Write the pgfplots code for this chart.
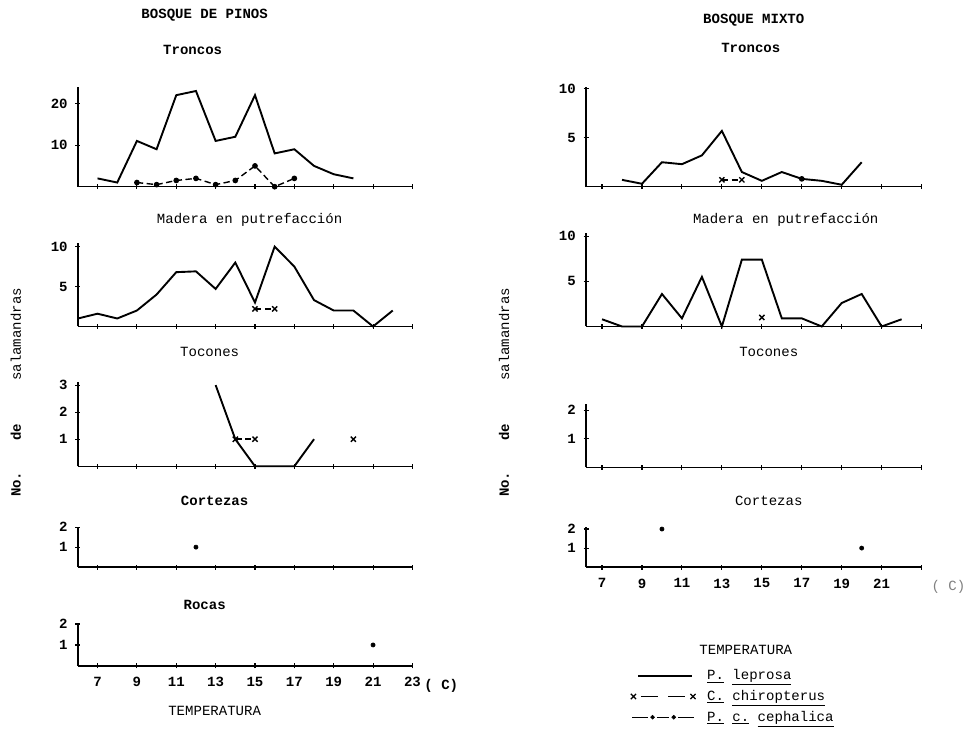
\documentclass[border=0pt]{standalone}
\usepackage{pgfplots}
\pgfplotsset{compat=1.18}
\usepackage{fontspec}
\setmainfont{Liberation Mono}

% 1 px of the 970x720 reference = 0.025cm
\def\px{*0.025cm}

\pgfplotsset{
  panel/.style={
    scale only axis,
    width=8.375cm,
    xmin=6, xmax=23, ymin=0,
    axis x line=bottom, axis y line=left,
    axis line style={-, line width=1pt},
    xtick={7,9,...,23}, xticklabels={},
    tick style={black, line width=0.8pt},
    major tick length=3.5pt, tick align=center,
    ticklabel style={font=\bfseries\fontsize{10}{12}\selectfont},
    yticklabel style={xshift=-2pt},
    xticklabel style={yshift=-3pt},
    /pgf/number format/assume math mode=true,
    clip=false,
  },
  rpanel/.style={panel, xmin=6.2, width=8.4cm},
  lep/.style={black, line width=1.35pt, mark=none},
  chi/.style={black, line width=1pt, dash pattern=on 4.5pt off 2.5pt,
              mark=x, mark size=2.6pt, mark options={solid, line width=1pt}},
  cep/.style={black, line width=1pt, dash pattern=on 4.5pt off 2.5pt,
              mark=*, mark size=1.5pt, mark options={solid}},
  dot/.style={black, only marks, mark=*, mark size=1.5pt},
}
\newcommand\tw{\fontsize{10}{12}\selectfont}

\begin{document}
\begin{tikzpicture}
\path (0,0) rectangle (970\px,-720\px);

%% ---------------- BOSQUE DE PINOS ----------------
\node[font=\tw\bfseries] at (205\px,-15\px) {BOSQUE DE PINOS};
\node[font=\tw\bfseries] at (193\px,-50\px) {Troncos};
\node[font=\tw] at (250\px,-220\px) {Madera en putrefacción};
\node[font=\tw] at (210\px,-353\px) {Tocones};
\node[font=\tw\bfseries] at (215\px,-502\px) {Cortezas};
\node[font=\tw\bfseries] at (205\px,-606\px) {Rocas};
\node[font=\tw] at (215\px,-712\px) {TEMPERATURA};
\node[font=\tw\bfseries] at (442\px,-687\px) {( C)};
\node[font=\tw\bfseries, rotate=90] at (16\px,-485\px) {No.};
\node[font=\tw\bfseries, rotate=90] at (16\px,-433\px) {de};
\node[font=\tw, rotate=90] at (16\px,-335\px) {salamandras};

% Troncos
\begin{axis}[panel, at={(78\px,-187\px)}, anchor=south west,
  height=2.5cm, ymax=24, ytick={10,20}]
\addplot[lep] coordinates {(7,2)(8,1)(9,11)(10,9)(11,22)(12,23)(13,11)(14,12)
  (15,22)(16,8)(17,9)(18,5)(19,3)(20,2)};
\addplot[cep] coordinates {(9,1)(10,0.5)(11,1.5)(12,2)(13,0.5)(14,1.5)(15,5)(16,0)(17,2)};
\end{axis}

% Madera en putrefaccion
\begin{axis}[panel, at={(78\px,-327\px)}, anchor=south west,
  height=2.1cm, ymax=10.5, ytick={5,10}]
\addplot[lep] coordinates {(6,1)(7,1.6)(8,1)(9,2)(10,4)(11,6.8)(12,6.9)(13,4.7)
  (14,8)(15,3)(16,10)(17,7.5)(18,3.3)(19,2)(20,2)(21,0)(22,2)};
\addplot[chi] coordinates {(15,2.2)(16,2.2)};
\end{axis}

% Tocones
\begin{axis}[panel, at={(78\px,-467\px)}, anchor=south west,
  height=2.1cm, ymax=3.1, ytick={1,2,3}, unbounded coords=jump]
\addplot[lep] coordinates {(13,3)(14,1)(15,0)(16,0)(17,0)(18,1)};
\addplot[chi] coordinates {(14,1)(15,1)(16,nan)(20,1)};
\end{axis}

% Cortezas
\begin{axis}[panel, at={(78\px,-568\px)}, anchor=south west,
  height=1cm, ymax=2, ytick={1,2}]
\addplot[dot] coordinates {(12,1)};
\end{axis}

% Rocas
\begin{axis}[panel, at={(78\px,-667\px)}, anchor=south west,
  height=1.05cm, ymax=2, ytick={1,2},
  xticklabels={7,9,11,13,15,17,19,21,23}]
\addplot[dot] coordinates {(21,1)};
\end{axis}

%% ---------------- BOSQUE MIXTO ----------------
\node[font=\tw\bfseries] at (755\px,-20\px) {BOSQUE MIXTO};
\node[font=\tw\bfseries] at (752\px,-48\px) {Troncos};
\node[font=\tw] at (787\px,-220\px) {Madera en putrefacción};
\node[font=\tw] at (770\px,-353\px) {Tocones};
\node[font=\tw] at (770\px,-502\px) {Cortezas};
\node[font=\tw] at (747\px,-651\px) {TEMPERATURA};
\node[font=\tw, text=gray] at (950\px,-588\px) {( C)};
\node[font=\tw\bfseries, rotate=90] at (505\px,-485\px) {No.};
\node[font=\tw\bfseries, rotate=90] at (505\px,-433\px) {de};
\node[font=\tw, rotate=90] at (505\px,-335\px) {salamandras};

% Troncos
\begin{axis}[rpanel, at={(587\px,-187\px)}, anchor=south west,
  height=2.5cm, ymax=10.2, ytick={5,10}]
\addplot[lep] coordinates {(8,0.7)(9,0.3)(10,2.5)(11,2.3)(12,3.2)(13,5.7)(14,1.5)
  (15,0.6)(16,1.5)(17,0.8)(18,0.6)(19,0.2)(20,2.5)};
\addplot[chi] coordinates {(13,0.7)(14,0.7)};
\addplot[cep] coordinates {(17,0.8)};
\end{axis}

% Madera en putrefaccion
\begin{axis}[rpanel, at={(587\px,-327\px)}, anchor=south west,
  height=2.35cm, ymax=10.4, ytick={5,10}]
\addplot[lep] coordinates {(7,0.8)(8,0)(9,0)(10,3.6)(11,0.9)(12,5.5)(13,0)(14,7.4)
  (15,7.4)(16,0.9)(17,0.9)(18,0)(19,2.6)(20,3.6)(21,0)(22,0.8)};
\addplot[chi] coordinates {(15,1)};
\end{axis}

% Tocones
\begin{axis}[rpanel, at={(587\px,-468\px)}, anchor=south west,
  height=1.575cm, ymax=2.2, ytick={1,2}]
\addplot[draw=none] coordinates {(7,0)};
\end{axis}

% Cortezas, with the legend of the species
\begin{axis}[rpanel, at={(587\px,-568\px)}, anchor=south west,
  height=1cm, ymax=2.1, ytick={1,2},
  xticklabels={7,9,11,13,15,17,19,21,{}},
  legend style={at={(0.12,-2.42)}, anchor=north west, draw=none, fill=none,
    font=\tw, row sep=2pt, nodes={inner sep=2pt}},
  legend cell align=left]
\addplot[dot, forget plot] coordinates {(10,2)(20,1)};
\addlegendimage{legend image code/.code={
  \draw[line width=1pt] (0.15cm,0cm) -- (1.5cm,0cm);
  \path (1.8cm,0cm);}}
\addlegendentry{\underline{P.} \underline{leprosa}}
\addlegendimage{legend image code/.code={
  \draw[line width=1pt] (0.22cm,0cm) -- (0.65cm,0cm) (0.9cm,0cm) -- (1.33cm,0cm);
  \draw[line width=0.9pt] plot[only marks, mark=x, mark size=2.6pt]
    coordinates {(0.03cm,0cm) (1.52cm,0cm)};
  \path (1.8cm,0cm);}}
\addlegendentry{\underline{C.} \underline{chiropterus}}
\addlegendimage{legend image code/.code={
  \draw[line width=1pt] (0cm,0cm) -- (0.4cm,0cm) (0.62cm,0cm) -- (0.93cm,0cm)
    (1.15cm,0cm) -- (1.55cm,0cm);
  \draw plot[only marks, mark=*, mark size=1.4pt]
    coordinates {(0.51cm,0cm) (1.04cm,0cm)};
  \path (1.8cm,0cm);}}
\addlegendentry{\underline{P.} \underline{c.} \underline{cephalica}}
\end{axis}
\end{tikzpicture}
\end{document}
